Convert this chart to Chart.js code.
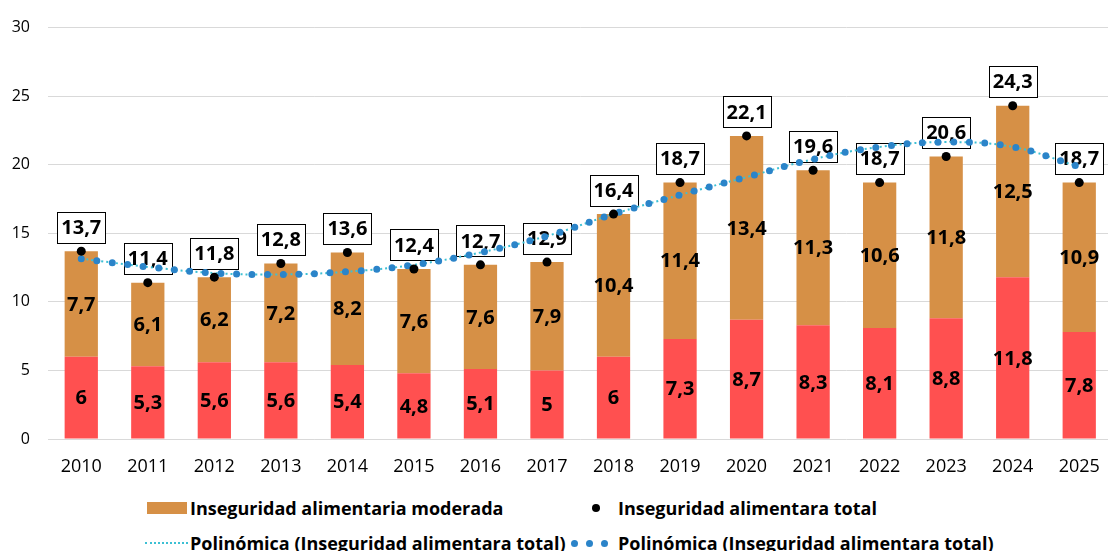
<!DOCTYPE html>
<html>
<head>
<meta charset="utf-8">
<script src="https://cdn.jsdelivr.net/npm/chart.js@4.4.1/dist/chart.umd.min.js"></script>
<style>
  html, body { margin: 0; padding: 0; background: #fff; }
  body { width: 1108px; height: 551px; overflow: hidden; position: relative; font-family: 'Open Sans', sans-serif; }
  #chart { position: absolute; left: 0; top: 0; }
  .leg { position: absolute; font-weight: bold; font-size: 18px; color: #000; white-space: nowrap; line-height: 20px; }
  .sw { position: absolute; }
</style>
</head>
<body>
<canvas id="chart" width="1117" height="480"></canvas>

<div class="sw" style="left:147px; top:502px; width:40px; height:12px; background:#D69046;"></div>
<div class="leg" style="left:190px; top:498px;">Inseguridad alimentaria moderada</div>
<div class="sw" style="left:592px; top:504px; width:8px; height:8px; border-radius:50%; background:#000;"></div>
<div class="leg" style="left:618px; top:498px;">Inseguridad alimentara total</div>

<div class="sw" style="left:145px; top:542px; width:43px; height:0; border-top:2px dotted #3CC0D4;"></div>
<div class="leg" style="left:190px; top:533px;">Polinómica (Inseguridad alimentara total)</div>
<div class="sw" style="left:571px; top:540px; width:7px; height:7px; border-radius:50%; background:#2B84C9;"></div>
<div class="sw" style="left:586px; top:540px; width:7px; height:7px; border-radius:50%; background:#2B84C9;"></div>
<div class="sw" style="left:601px; top:540px; width:7px; height:7px; border-radius:50%; background:#2B84C9;"></div>
<div class="leg" style="left:618px; top:533px;">Polinómica (Inseguridad alimentara total)</div>

<script>
// data
const years = ['2010', '2011', '2012', '2013', '2014', '2015', '2016', '2017',
               '2018', '2019', '2020', '2021', '2022', '2023', '2024', '2025'];
const severa = [6, 5.3, 5.6, 5.6, 5.4, 4.8, 5.1, 5, 6, 7.3, 8.7, 8.3, 8.1, 8.8, 11.8, 7.8];
const moderada = [7.7, 6.1, 6.2, 7.2, 8.2, 7.6, 7.6, 7.9, 10.4, 11.4, 13.4, 11.3, 10.6, 11.8, 12.5, 10.9];
const total = [13.7, 11.4, 11.8, 12.8, 13.6, 12.4, 12.7, 12.9, 16.4, 18.7, 22.1, 19.6, 18.7, 20.6, 24.3, 18.7];
// polynomial trend line, values at each year
const tendencia = [13.15, 12.55, 12.1, 12.0, 12.2, 12.7, 13.6, 14.8, 16.4, 17.8, 19.1, 20.4, 21.3, 21.65, 21.3, 19.85];

const FONT = '"Open Sans", sans-serif';
const fmt = v => String(v).replace('.', ',');

const valueLabels = {
  id: 'valueLabels',
  afterDatasetDraw(chart, args) {
    // severa (index 0) is the last bar dataset drawn
    if (args.index !== 0) return;
    const ctx = chart.ctx;
    const series = [severa, moderada];
    ctx.save();
    ctx.font = 'bold 20px ' + FONT;
    ctx.textAlign = 'center';
    ctx.textBaseline = 'middle';
    ctx.fillStyle = '#000';
    [0, 1].forEach(di => {
      chart.getDatasetMeta(di).data.forEach((bar, i) => {
        const p = bar.getProps(['x', 'y', 'base'], true);
        ctx.fillText(fmt(series[di][i]), p.x, (p.y + p.base) / 2 + 1);
      });
    });
    // boxed totals above the black points
    ctx.lineWidth = 1;
    ctx.strokeStyle = '#000';
    chart.getDatasetMeta(2).data.forEach((pt, i) => {
      const txt = fmt(total[i]);
      const w = Math.round(ctx.measureText(txt).width + 8);
      const h = 31;
      const cy = pt.y - 24;
      const x0 = Math.round(pt.x - w / 2) + 0.5;
      const y0 = Math.round(cy - h / 2) + 0.5;
      ctx.fillStyle = '#fff';
      ctx.fillRect(x0, y0, w, h);
      ctx.strokeRect(x0, y0, w, h);
      ctx.fillStyle = '#000';
      ctx.fillText(txt, pt.x, cy + 1);
    });
    ctx.restore();
  }
};

new Chart(document.getElementById('chart'), {
  data: {
    labels: years,
    datasets: [
      {
        type: 'bar',
        label: 'Inseguridad alimentaria severa',
        data: severa,
        backgroundColor: '#FF5050',
        stack: 'bars',
        order: 4,
        barPercentage: 0.5,
        categoryPercentage: 1
      },
      {
        type: 'bar',
        label: 'Inseguridad alimentaria moderada',
        data: moderada,
        backgroundColor: '#D69046',
        stack: 'bars',
        order: 5,
        barPercentage: 0.5,
        categoryPercentage: 1
      },
      {
        type: 'line',
        label: 'Inseguridad alimentara total',
        data: total,
        showLine: false,
        pointRadius: 4.5,
        pointBackgroundColor: '#000',
        pointBorderWidth: 0,
        stack: 'total',
        order: 0
      },
      {
        type: 'line',
        label: 'Polinómica (Inseguridad alimentara total)',
        data: tendencia,
        borderColor: '#3CC0D4',
        borderWidth: 2,
        borderDash: [2, 3],
        tension: 0.4,
        pointRadius: 0,
        fill: false,
        stack: 'trend1',
        order: 2
      },
      {
        type: 'line',
        label: 'Polinómica (Inseguridad alimentara total)',
        data: tendencia,
        borderColor: '#2B84C9',
        borderWidth: 7,
        borderDash: [0, 15.6],
        borderCapStyle: 'round',
        tension: 0.4,
        pointRadius: 0,
        fill: false,
        stack: 'trend2',
        order: 1
      }
    ]
  },
  options: {
    responsive: false,
    animation: false,
    layout: { padding: { top: 23.5, left: 0, right: 0, bottom: 0 } },
    plugins: {
      legend: { display: false },
      tooltip: { enabled: false }
    },
    scales: {
      x: {
        stacked: true,
        offset: true,
        grid: { display: false, drawTicks: false },
        border: { display: false },
        ticks: { font: { family: FONT, size: 18 }, color: '#000', padding: 17 },
        afterFit: s => { s.height = 41; }
      },
      y: {
        stacked: true,
        min: 0,
        max: 30,
        ticks: { stepSize: 5, font: { family: FONT, size: 16 }, color: '#000', padding: 18 },
        grid: { color: '#D9D9D9', drawTicks: false },
        border: { display: false },
        afterFit: s => { s.width = 48; }
      }
    }
  },
  plugins: [valueLabels]
});
</script>
</body>
</html>
